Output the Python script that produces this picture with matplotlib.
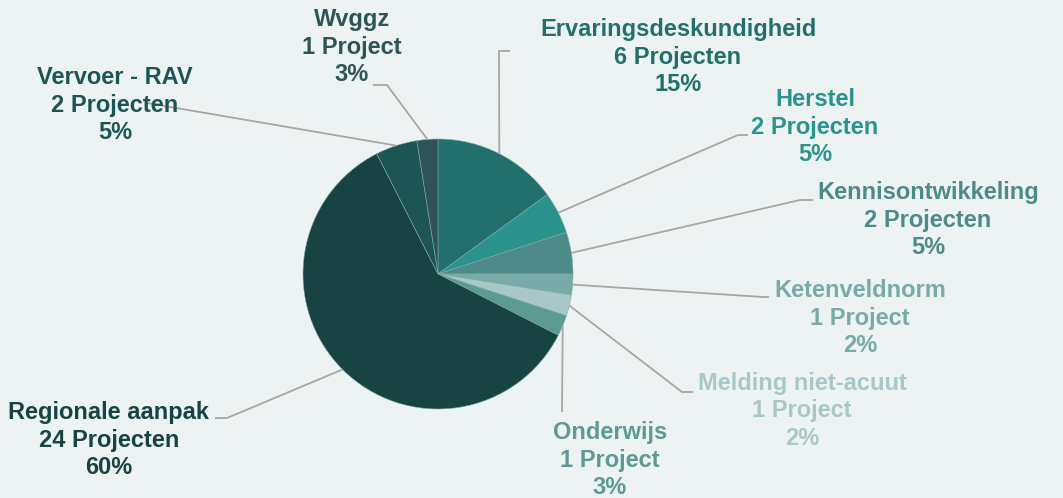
import numpy as np
import matplotlib
matplotlib.use("Agg")
import matplotlib.pyplot as plt

W, H = 1063, 498
BG = "#EDF3F3"
LINE = "#A6A6A6"

categories = ["Ervaringsdeskundigheid", "Herstel", "Kennisontwikkeling", "Ketenveldnorm",
              "Melding niet-acuut", "Onderwijs", "Regionale aanpak", "Vervoer - RAV", "Wvggz"]
projects = [6, 2, 2, 1, 1, 1, 24, 2, 1]
percent_labels = ["15%", "5%", "5%", "2%", "2%", "3%", "60%", "5%", "3%"]
colors = ["#22706B", "#2A948C", "#4E8A87", "#78ABA8", "#A7C8C7",
          "#5C9A94", "#174343", "#1C5553", "#2E5555"]

# layout (pixels from top-left): text centre, elbow point, end of horizontal stub
text_pos = [(678, 57), (815, 127), (928, 220), (860, 318), (802, 411),
            (610, 460), (109, 440), (115, 105), (352, 47)]
elbows = [(499, 51), (738, 135), (800, 200), (763, 297), (682, 392),
          (562, 412), (227, 418), (147, 103), (387, 85)]
stubs = [(510, 51), (748, 135), (813, 200), (769, 297), (693, 392),
         (562, 412), (215, 418), (147, 103), (373, 85)]

CENTER = (438, 274)
RADIUS = 135


def flip(p):
    return (p[0], H - p[1])


plt.rcParams["font.family"] = ["Liberation Sans", "DejaVu Sans"]

fig = plt.figure(figsize=(W / 100, H / 100), dpi=100)
fig.patch.set_facecolor(BG)
ax = fig.add_axes([0, 0, 1, 1])
ax.set_facecolor(BG)

wedges, _ = ax.pie(projects, colors=colors, startangle=90, counterclock=False,
                   center=flip(CENTER), radius=RADIUS,
                   wedgeprops=dict(edgecolor="#7FA9A6", linewidth=0.4))
# pie() resets the limits, so set them afterwards
ax.set_xlim(0, W)
ax.set_ylim(0, H)
ax.set_aspect("equal")
ax.axis("off")

for i, w in enumerate(wedges):
    mid = np.deg2rad((w.theta1 + w.theta2) / 2)
    cx, cy = flip(CENTER)
    start = (cx + RADIUS * np.cos(mid), cy + RADIUS * np.sin(mid))
    e = flip(elbows[i])
    s = flip(stubs[i])
    ax.plot([start[0], e[0], s[0]], [start[1], e[1], s[1]], color=LINE, lw=1.3,
            solid_capstyle="butt", zorder=1)
    unit = "Project" if projects[i] == 1 else "Projecten"
    label = f"{categories[i]}\n{projects[i]} {unit}\n{percent_labels[i]}"
    tx, ty = flip(text_pos[i])
    ax.text(tx, ty, label, ha="center", va="center", fontsize=17,
            fontweight="bold", color=colors[i], linespacing=1.26, zorder=3)

fig.savefig("out.png", dpi=100, facecolor=BG)
